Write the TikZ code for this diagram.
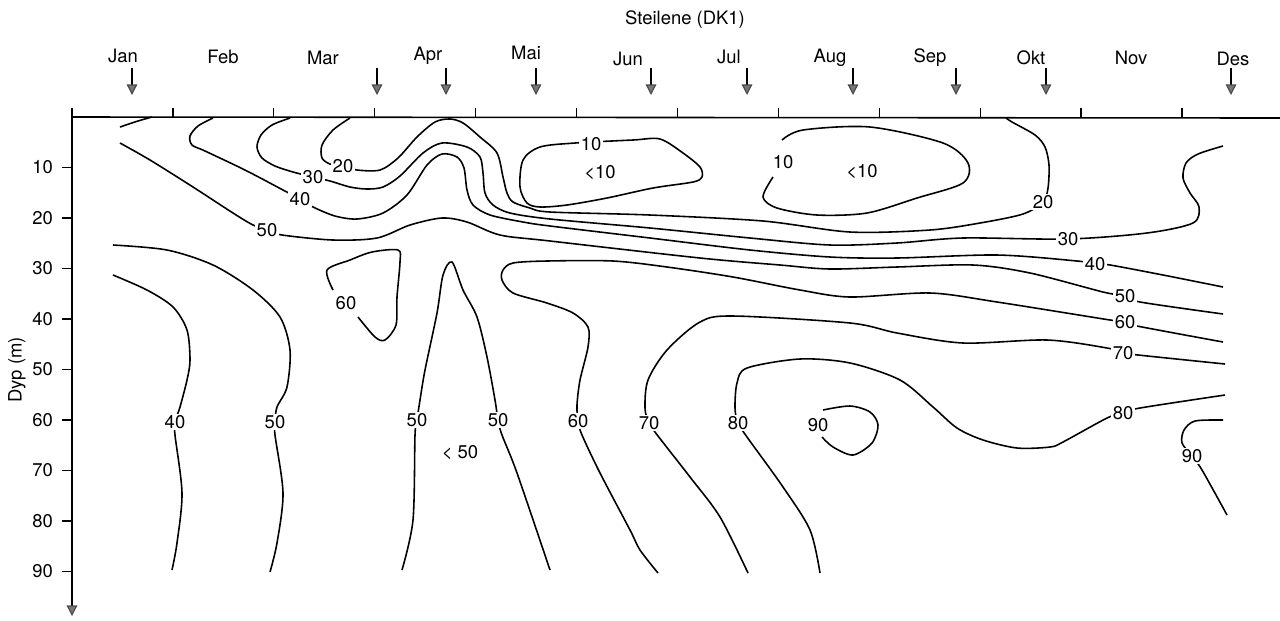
\documentclass[tikz,border=0pt]{standalone}
\usepackage{fontspec}
\setmainfont{TeX Gyre Heros}
\usetikzlibrary{arrows.meta}
\definecolor{mgray}{RGB}{120,120,120}

\begin{document}
\begin{tikzpicture}[x=0.02cm,y=-0.02cm,
    font=\fontsize{10.5}{12}\selectfont,
    iso/.style={line width=0.9pt},
    lbl/.style={fill=white,inner sep=1pt},
    samp/.style={line width=0.7pt,-{Triangle[width=6pt,length=6pt,fill=mgray,color=black!70]}}]
  \useasboundingbox (0,0) rectangle (1280,620);
  \node (title) at (685,20) {Steilene (DK1)};
  % axes
  \draw[line width=0.9pt] (72,117) -- (1280,118);
  \draw[samp] (72,108) -- (72,616);
  \foreach \k in {1,...,11}
    \draw[line width=0.7pt] (72+100.9*\k,117) -- ++(0,-9);
  \foreach \d in {10,20,...,90} {
    \draw[line width=0.7pt] (62,117+5.05*\d) -- (72,117+5.05*\d);
    \node[anchor=east] (d\d) at (59,117+5.05*\d) {\d};
  }
  \node[rotate=90] (dyp) at (17,370) {Dyp (m)};
  \foreach \m/\x/\y in {Jan/123/56,Feb/223/57,Mar/323/58,Apr/428/56,Mai/526/53,Jun/628/59,
      Jul/729/57,Aug/830/58,Sep/930/58,Okt/1031/58,Nov/1131/58,Des/1233/59}
    \node (m\m) at (\x,\y) {\m};
  \foreach \x in {132,377,446,536,651,747,853,956,1046,1231}
    \draw[samp] (\x,68) -- (\x,95);

  % upper isolines
  \draw[iso] plot[smooth] coordinates {(120,127) (138,121) (152,117)};
  \draw[iso] plot[smooth cycle] coordinates {(520,187) (523,160) (540,147) (575,143) (633,140)
      (660,139) (683,153) (700,167) (702,177) (693,182) (653,188) (607,198) (567,205) (540,207) (527,203)};
  \draw[iso] plot[smooth] coordinates {(782,140) (803,130) (870,127) (943,143) (968,163) (963,183)
      (917,198) (867,213) (817,215) (777,208) (763,197) (773,177)};
  \draw[iso] plot[smooth] coordinates {(350,118) (333,130) (322,145) (322,158) (330,164) (343,166)
      (357,170) (380,170) (398,158) (417,137) (435,122) (450,119) (463,123) (480,137) (497,153)
      (503,177) (507,193) (513,202) (530,208) (550,212) (650,215) (763,221) (850,232) (930,230)
      (980,223) (1023,214) (1043,202) (1048,188) (1049,165) (1045,147) (1035,135) (1012,122) (1006,118)};
  \draw[iso] plot[smooth] coordinates {(290,118) (272,125) (261,135) (257,147) (262,158) (275,166)
      (293,172) (313,177) (330,181) (350,187) (367,189) (383,187) (400,176) (423,153) (442,143)
      (467,147) (480,157) (483,173) (485,193) (493,205) (510,213) (550,219) (650,228) (750,238)
      (830,245) (897,243) (963,238) (1068,239) (1147,233) (1193,223) (1199,207) (1190,193)
      (1183,178) (1186,163) (1198,154) (1223,146)};
  \draw[iso] plot[smooth] coordinates {(213,118) (198,126) (190,136) (192,145) (205,151) (245,170)
      (283,190) (300,199) (313,207) (335,216) (357,219) (383,213) (407,195) (427,165) (442,154)
      (457,157) (464,168) (467,190) (473,205) (490,215) (523,222) (550,226) (650,238) (750,250)
      (830,257) (897,258) (997,255) (1077,261) (1095,264) (1110,265) (1163,275) (1223,287)};
  \draw[iso] plot[smooth] coordinates {(120,143) (150,160) (193,187) (233,213) (253,225) (267,230)
      (282,235) (333,240) (377,238) (410,225) (442,218) (467,222) (500,235) (550,241) (700,258)
      (780,265) (830,269) (897,267) (973,265) (1030,273) (1103,292) (1125,296) (1140,302) (1223,314)};
  \draw[iso] plot[smooth] coordinates {(658,573) (640,550) (630,530) (600,473) (582,435) (578,421)
      (577,405) (580,380) (588,347) (588,327) (573,313) (547,303) (513,293) (502,280) (503,270)
      (513,263) (547,261) (613,261) (667,267) (733,277) (800,290) (850,297) (930,293) (997,302)
      (1110,320) (1125,322) (1137,326) (1223,342)};
  \draw[iso] plot[smooth] coordinates {(748,573) (720,517) (690,477) (658,436) (649,423) (645,408)
      (648,380) (667,350) (700,322) (733,316) (850,323) (897,333) (963,343) (1047,340) (1107,348)
      (1123,353) (1138,355) (1225,364)};
  \draw[iso] plot[smooth] coordinates {(820,573) (810,530) (783,487) (747,437) (738,423) (735,408)
      (737,383) (747,368) (800,359) (850,363) (900,380) (933,407) (957,428) (983,440) (1017,448)
      (1050,447) (1063,442) (1107,418) (1123,413) (1140,408) (1225,395)};
  \draw[iso] plot[smooth] coordinates {(823,410) (850,406) (870,412) (878,425) (872,443) (853,455)
      (833,447) (822,437)};
  \draw[iso] plot[smooth] coordinates {(1223,420) (1195,421) (1184,430) (1182,443) (1192,456)
      (1202,470) (1227,515)};
  % lower isolines
  \draw[iso] plot[smooth] coordinates {(113,275) (147,290) (173,307) (187,330) (190,360) (187,380)
      (180,407) (175,422) (175,435) (182,493) (177,543) (172,570)};
  \draw[iso] plot[smooth] coordinates {(113,245) (167,250) (213,265) (253,290) (280,317) (290,350)
      (287,387) (277,407) (275,422) (275,435) (283,493) (277,543) (270,572)};
  \draw[iso] plot[smooth] coordinates {(333,290) (327,270) (350,260) (372,252) (398,250) (400,262)
      (397,297) (396,325) (385,340) (375,337) (358,317)};
  \draw[iso] plot[smooth] coordinates {(402,570) (413,520) (415,435) (417,420) (420,400) (425,370)
      (437,313) (443,275) (452,262) (463,290) (477,317) (487,357) (495,400) (498,420) (502,435)
      (517,473) (550,570)};

  % labels
  \node[lbl] (i10a) at (591,144) {10};
  \node[lbl] (i10b) at (783,162) {10};
  \node (lt10a) at (600,173) {<10};
  \node (lt10b) at (862,172) {<10};
  \node[lbl] (i20a) at (343,166) {20};
  \node[lbl] (i20b) at (1043,202) {20};
  \node[lbl] (i30a) at (313,177) {30};
  \node[lbl] (i30b) at (1068,239) {30};
  \node[lbl] (i40a) at (300,199) {40};
  \node[lbl] (i40b) at (1095,264) {40};
  \node[lbl] (i40c) at (175,422) {40};
  \node[lbl] (i50a) at (267,230) {50};
  \node[lbl] (i50b) at (1125,296) {50};
  \node[lbl] (i50c) at (275,422) {50};
  \node[lbl] (i50d) at (417,420) {50};
  \node[lbl] (i50e) at (498,420) {50};
  \node (lt50) at (460,453) {< 50};
  \node[lbl] (i60a) at (346,303) {60};
  \node[lbl] (i60b) at (578,421) {60};
  \node[lbl] (i60c) at (1125,322) {60};
  \node[lbl] (i70a) at (649,423) {70};
  \node[lbl] (i70b) at (1123,353) {70};
  \node[lbl] (i80a) at (738,423) {80};
  \node[lbl] (i80b) at (1123,413) {80};
  \node[lbl] (i90a) at (818,425) {90};
  \node[lbl] (i90b) at (1192,456) {90};
\end{tikzpicture}
\end{document}
